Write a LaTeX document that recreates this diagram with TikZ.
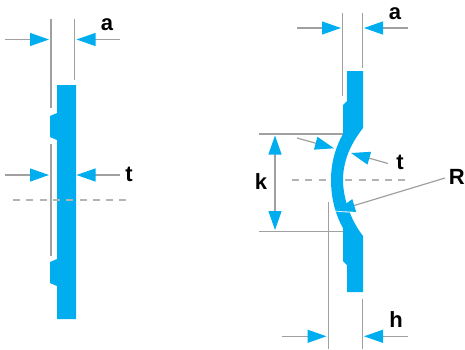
\documentclass[tikz,border=0pt]{standalone}
\usepackage{fontspec}
\setmainfont{Liberation Sans}
\usetikzlibrary{arrows.meta}
\definecolor{plate}{HTML}{00AEEF}
\definecolor{ln}{HTML}{A0A0A0}
\tikzset{
  platefill/.style={fill=plate,draw=none},
  ext/.style={draw=ln,line width=1.2pt},
  dim/.style={draw=ln,line width=1.2pt,-{Triangle[length=19pt,width=13pt,fill=plate,color=plate]}},
  dimboth/.style={draw=ln,line width=1.2pt,{Triangle[length=19pt,width=13pt,fill=plate,color=plate]}-{Triangle[length=19pt,width=13pt,fill=plate,color=plate]}},
  center line/.style={draw=ln!80,line width=1.2pt,dash pattern=on 7pt off 6.3pt},
  lab/.style={font=\bfseries\fontsize{22}{22}\selectfont,text=black,inner sep=0pt}
}
\begin{document}
\begin{tikzpicture}[x=1pt,y=-1pt]
\useasboundingbox (0,0) rectangle (465,349);
% ---- left part
\path[platefill] (57,85) -- (76,85) -- (76,319) -- (57,319) -- (57,286) -- (50,283) -- (50,262) -- (57,259)
  -- (57,140) -- (50,137) -- (50,116) -- (57,113) -- cycle;
\coordinate (l1a) at (51,19); \coordinate (l1b) at (51,108);
\coordinate (l1c) at (51,144); \coordinate (l1d) at (51,256);
\coordinate (l2a) at (74.5,19); \coordinate (l2b) at (74.5,80);
\draw[ext] (l1a) -- (l1b);
\draw[ext] (l1c) -- (l1d);
\draw[ext] (l2a) -- (l2b);
\coordinate (aL) at (5,39.5); \coordinate (aLt) at (49,39.5);
\coordinate (aR) at (120,39.5); \coordinate (aRt) at (76.5,39.5);
\draw[dim] (aL) -- (aLt);
\draw[dim] (aR) -- (aRt);
\coordinate (tL) at (5,175); \coordinate (tLt) at (49,175);
\coordinate (tR) at (120,175); \coordinate (tRt) at (76.5,175);
\draw[dim] (tL) -- (tLt);
\draw[dim] (tR) -- (tRt);
\coordinate (cl1) at (13,200); \coordinate (cl2) at (128,200);
\draw[center line] (cl1) -- (cl2);
\node[lab] (labA) at (107,25) {a};
\node[lab] (labT) at (129,174) {t};
% ---- right part
\coordinate (ra1) at (342.7,13); \coordinate (ra2) at (342.7,96);
\coordinate (rb1) at (362.3,13); \coordinate (rb2) at (362.3,68);
\coordinate (rc1) at (328.7,202); \coordinate (rc2) at (328.7,349);
\coordinate (rd1) at (362.3,299); \coordinate (rd2) at (362.3,349);
\draw[ext] (ra1) -- (ra2);
\draw[ext] (rb1) -- (rb2);
\draw[ext] (rc1) -- (rc2);
\draw[ext] (rd1) -- (rd2);
\coordinate (ke1) at (259,134); \coordinate (ke2) at (343,134);
\coordinate (kf1) at (259,231.3); \coordinate (kf2) at (343,231.3);
\draw[ext] (ke1) -- (ke2);
\draw[ext] (kf1) -- (kf2);
\coordinate (rcl1) at (292,180); \coordinate (rcl2) at (406,180);
\draw[center line] (rcl1) -- (rcl2);
\path[platefill] (347,71) -- (363,71) -- (363,128)
  .. controls (353,141) and (343,158) .. (343,180)
  .. controls (343,200) and (352,222) .. (363,236)
  -- (363,292) -- (347,292) -- (347,265) -- (343,261) -- (343,228)
  .. controls (336,216) and (331,199) .. (331,180)
  .. controls (331,162) and (336,146) .. (343,134)
  -- (343,105) -- (347,101) -- cycle;
\coordinate (raL) at (297,28); \coordinate (raLt) at (341,28);
\coordinate (raR) at (408,28); \coordinate (raRt) at (364,28);
\draw[dim] (raL) -- (raLt);
\draw[dim] (raR) -- (raRt);
\coordinate (hL) at (282,336.3); \coordinate (hLt) at (326.5,336.3);
\coordinate (hR) at (408,336.3); \coordinate (hRt) at (364,336.3);
\draw[dim] (hL) -- (hLt);
\draw[dim] (hR) -- (hRt);
\coordinate (kt) at (275,135.5); \coordinate (kb) at (275,230);
\draw[dimboth] (kt) -- (kb);
\coordinate (t1s) at (297,138); \coordinate (t1e) at (334,148.3);
\coordinate (t2s) at (388,163.5); \coordinate (t2e) at (351,153);
\coordinate (Rs) at (445,178); \coordinate (Re) at (336,211);
\draw[dim] (t1s) -- (t1e);
\draw[dim] (t2s) -- (t2e);
\path[fill=white] (335,211.5) -- (349,212.5) -- (362,209) -- (358,197) -- cycle;
\draw[dim] (Rs) -- (Re);
\node[lab] (labRa) at (395,14) {a};
\node[lab] (labRt) at (400,162) {t};
\node[lab] (labK) at (261,182) {k};
\node[lab] (labR) at (456.8,177) {R};
\node[lab] (labH) at (396,320) {h};
\end{tikzpicture}
\end{document}
